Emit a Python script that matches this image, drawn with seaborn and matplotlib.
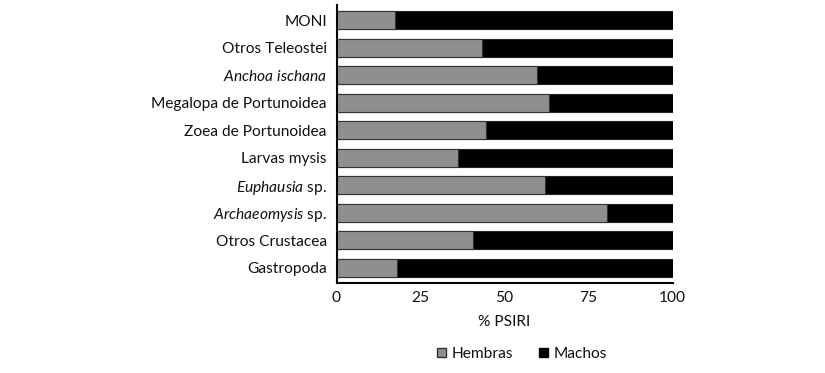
import matplotlib
matplotlib.use("Agg")
import matplotlib.pyplot as plt
import seaborn as sns
import pandas as pd
from matplotlib.patches import Patch

categories = ["MONI", "Otros Teleostei", r"$\mathit{Anchoa\ ischana}$",
              "Megalopa de Portunoidea", "Zoea de Portunoidea", "Larvas mysis",
              r"$\mathit{Euphausia}$ sp.", r"$\mathit{Archaeomysis}$ sp.",
              "Otros Crustacea", "Gastropoda"]
hembras = [17.5, 43.2, 59.6, 63.1, 44.4, 36.2, 62.1, 80.5, 40.7, 18.0]
machos = [82.5, 56.8, 40.4, 36.9, 55.6, 63.8, 37.9, 19.5, 59.3, 82.0]
xticks = [0, 25, 50, 75, 100]

FONT = 'Lato'
FS = 11.2

sns.set_theme(style="white")
plt.rcParams['font.family'] = [FONT, 'DejaVu Sans']
plt.rcParams['mathtext.fontset'] = 'custom'
plt.rcParams['mathtext.rm'] = FONT
plt.rcParams['mathtext.it'] = FONT + ':italic'

df = pd.DataFrame({"cat": categories, "Hembras": hembras, "Machos": machos})
df["total"] = df["Hembras"] + df["Machos"]

fig = plt.figure(figsize=(8.25, 3.73), dpi=100)
ax = fig.add_axes([336.5 / 825, 90 / 373, 336 / 825, 278 / 373])

sns.barplot(data=df, y="cat", x="total", color="black", orient="h",
            width=0.66, edgecolor="#222222", linewidth=0.8, ax=ax, saturation=1)
sns.barplot(data=df, y="cat", x="Hembras", color="#8f8f8f", orient="h",
            width=0.66, edgecolor="#333333", linewidth=0.8, ax=ax, saturation=1)

ax.set_xlim(0, 100)
ax.set_ylim(len(categories) - 0.5 + 0.05, -0.5 - 0.05)
ax.set_xticks(xticks)
ax.set_xticklabels([str(t) for t in xticks], fontsize=FS)
ax.tick_params(axis="y", labelsize=FS, length=0, pad=7, colors="#111111")
ax.tick_params(axis="x", length=0, pad=6, colors="#111111")
ax.set_ylabel("")
ax.set_xlabel("% PSIRI", fontsize=FS, labelpad=7, color="#111111")
for s in ["top", "right"]:
    ax.spines[s].set_visible(False)
for s in ["left", "bottom"]:
    ax.spines[s].set_color("black")
    ax.spines[s].set_linewidth(1.5)

handles = [Patch(facecolor="#8f8f8f", edgecolor="#333333", label="Hembras"),
           Patch(facecolor="black", edgecolor="black", label="Machos")]
fig.legend(handles=handles, loc="center", bbox_to_anchor=(522 / 825, 1 - 354 / 373),
           ncol=2, frameon=False, fontsize=FS, handlelength=0.6, handleheight=0.6,
           handletextpad=0.4, columnspacing=1.6, labelcolor="#111111")

fig.savefig("out.png", dpi=100)
